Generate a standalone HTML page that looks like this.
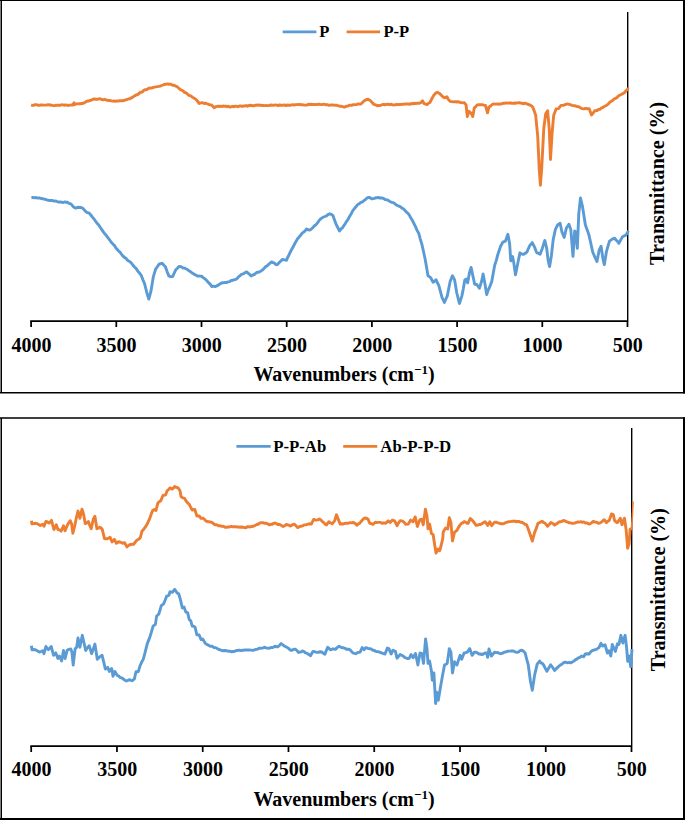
<!DOCTYPE html>
<html><head><meta charset="utf-8"><style>
html,body{margin:0;padding:0;background:#fff;}
body{width:685px;height:820px;overflow:hidden;}
svg{display:block;}
text{font-family:"Liberation Serif",serif;font-weight:bold;fill:#000;}
.tk{font-size:20px;text-anchor:middle;}
.ttl{font-size:20px;text-anchor:middle;}
.sup{font-size:13px;}
.yt{font-size:20.1px;text-anchor:middle;}
.lg{font-size:16.5px;}
</style></head><body>
<svg width="685" height="820" viewBox="0 0 685 820">
<rect width="685" height="820" fill="#fff"/>
<path d="M0 0.5H685" stroke="#000" stroke-width="1"/>
<path d="M1.25 0V393.55M0 392.8H685" stroke="#000" stroke-width="1.5" fill="none"/>
<path d="M684 0V393.55M684 417.2V820M0 819H685" stroke="#000" stroke-width="2" fill="none"/>
<path d="M1.25 417.2V820M0 418H685" stroke="#000" stroke-width="1.5" fill="none"/>
<path d="M30.20 321.00H628.00" fill="none" stroke="#000" stroke-width="1.75"/>
<path d="M627.70 321.00V12.00" fill="none" stroke="#000" stroke-width="1.4"/>
<line x1="31.10" y1="321.00" x2="31.10" y2="327.00" stroke="#000" stroke-width="1.75"/>
<text x="31.40" y="351.90" class="tk">4000</text>
<line x1="116.30" y1="321.00" x2="116.30" y2="327.00" stroke="#000" stroke-width="1.75"/>
<text x="116.60" y="351.90" class="tk">3500</text>
<line x1="201.50" y1="321.00" x2="201.50" y2="327.00" stroke="#000" stroke-width="1.75"/>
<text x="201.80" y="351.90" class="tk">3000</text>
<line x1="286.70" y1="321.00" x2="286.70" y2="327.00" stroke="#000" stroke-width="1.75"/>
<text x="287.00" y="351.90" class="tk">2500</text>
<line x1="371.90" y1="321.00" x2="371.90" y2="327.00" stroke="#000" stroke-width="1.75"/>
<text x="372.20" y="351.90" class="tk">2000</text>
<line x1="457.10" y1="321.00" x2="457.10" y2="327.00" stroke="#000" stroke-width="1.75"/>
<text x="457.40" y="351.90" class="tk">1500</text>
<line x1="542.30" y1="321.00" x2="542.30" y2="327.00" stroke="#000" stroke-width="1.75"/>
<text x="542.60" y="351.90" class="tk">1000</text>
<line x1="627.50" y1="321.00" x2="627.50" y2="327.00" stroke="#000" stroke-width="1.75"/>
<text x="627.80" y="351.90" class="tk">500</text>
<text x="344.00" y="380.50" class="ttl">Wavenumbers (cm<tspan dy="-7" class="sup">−1</tspan><tspan dy="7">)</tspan></text>
<text transform="translate(663.90 183.40) rotate(-90)" class="yt">Transmittance (%)</text>
<line x1="282.7" y1="31.9" x2="316.4" y2="31.9" stroke="#5B9BD5" stroke-width="2.6"/>
<text x="319.3" y="36.8" class="lg" style="font-size:16.5px">P</text>
<line x1="346.6" y1="31.9" x2="380.1" y2="31.9" stroke="#ED7D31" stroke-width="2.6"/>
<text x="383.4" y="36.8" class="lg" style="font-size:16.5px">P-P</text>
<path d="M31.4 197.8L33.0 197.4L34.6 197.9L36.2 197.5L37.8 198.1L39.4 197.9L41.0 198.5L42.6 198.8L44.3 199.1L45.9 199.5L47.3 200.0L48.6 200.4L50.0 200.5L52.0 200.4L53.9 201.1L55.5 200.9L57.0 201.5L58.6 202.1L60.3 202.0L61.9 202.3L63.3 202.5L64.8 201.9L66.2 202.3L67.6 202.3L68.9 203.3L70.3 203.6L71.6 204.6L73.2 206.6L74.8 207.8L76.4 208.1L78.0 207.2L79.6 207.5L81.2 207.5L82.8 208.3L84.1 209.7L85.5 211.4L86.8 212.3L89.2 213.1L90.8 215.0L92.4 217.1L94.0 219.0L95.7 221.3L97.3 223.5L98.9 225.3L100.5 227.7L102.1 230.1L103.7 232.4L105.0 234.1L106.4 235.6L107.7 237.4L109.0 239.1L110.4 241.0L111.7 242.8L113.1 244.2L114.5 245.6L115.9 247.9L117.2 249.3L118.6 251.0L120.0 252.2L121.4 254.1L123.0 256.1L124.6 257.6L126.2 258.6L127.8 260.5L130.0 261.7L131.6 263.3L133.2 265.5L134.8 267.3L136.4 268.9L138.0 271.4L139.6 273.1L141.2 275.3L142.8 279.6L144.5 283.4L146.9 293.0L148.8 299.1L150.9 291.4L153.3 276.9L155.7 268.9L157.3 266.8L158.9 264.4L160.5 263.7L162.1 263.3L163.7 265.0L165.3 266.5L167.1 271.6L168.9 276.1L170.8 276.7L172.6 276.6L174.2 273.2L175.8 269.7L177.4 268.2L179.0 266.5L180.4 266.5L181.8 267.1L183.2 268.0L184.6 268.1L186.2 269.0L187.8 269.8L189.4 271.1L191.0 272.1L192.6 273.3L194.2 274.3L195.8 275.0L197.4 276.1L198.8 276.0L200.1 276.1L201.5 276.1L202.8 277.4L204.2 278.3L205.5 279.3L207.1 281.0L208.7 282.9L210.3 284.4L211.9 286.6L213.5 286.2L215.1 286.6L216.7 285.9L218.3 285.2L219.9 284.0L221.5 283.0L223.1 282.8L224.8 282.4L226.4 282.6L228.0 281.9L229.6 281.6L231.2 280.5L232.8 280.3L234.4 279.7L236.0 279.3L237.3 278.4L238.7 276.6L240.1 275.6L241.4 274.3L243.1 273.9L244.9 272.8L246.6 271.9L248.1 273.2L249.6 274.4L251.1 275.9L252.7 275.0L254.3 274.5L255.9 273.2L257.3 272.1L258.7 272.2L260.1 271.5L261.5 270.6L262.8 269.7L264.2 268.3L265.5 266.8L267.0 265.9L268.6 264.4L270.1 263.2L271.6 261.9L273.0 262.6L274.4 263.0L275.7 264.4L277.1 264.8L278.4 263.5L279.8 261.8L281.1 260.8L282.4 259.4L283.7 259.7L285.1 259.9L286.4 260.3L287.7 257.3L289.1 254.7L290.4 251.8L291.8 249.3L293.2 246.7L294.6 244.0L296.0 241.4L297.6 238.8L299.2 236.9L300.8 235.0L302.2 233.2L303.6 232.1L305.1 230.8L306.5 229.0L308.1 229.8L309.7 230.1L311.1 229.2L312.5 228.0L313.9 226.3L315.3 225.3L316.6 223.9L318.0 222.1L319.3 220.2L320.7 218.9L322.1 217.9L323.5 217.0L324.9 216.5L326.5 215.8L328.1 214.5L329.7 213.8L331.4 214.4L333.0 215.7L334.6 220.2L336.2 224.5L337.8 227.6L339.4 231.0L341.0 229.0L342.6 227.7L344.0 225.3L345.3 223.6L346.6 221.3L348.0 219.5L349.6 216.4L351.2 213.8L352.8 210.7L354.4 208.6L356.1 206.5L357.7 204.6L359.3 203.7L360.9 202.4L362.5 201.9L363.9 200.7L365.3 199.6L366.7 198.3L368.1 197.5L369.7 197.5L371.3 198.7L372.9 198.7L374.3 198.4L375.7 197.8L377.1 197.8L378.5 197.4L379.9 198.1L381.2 197.8L382.6 198.2L383.9 198.7L385.2 199.6L386.6 199.8L387.9 200.1L389.3 201.2L390.6 201.8L391.9 202.3L393.3 202.6L394.6 203.5L396.1 204.8L397.5 205.5L399.0 206.2L400.5 206.8L401.9 208.1L403.4 208.8L404.8 210.2L406.2 211.8L407.7 213.1L409.1 214.7L410.7 217.8L412.3 220.2L413.9 223.5L415.5 226.6L417.1 230.4L418.7 233.2L420.3 239.1L421.9 244.4L423.5 251.5L425.1 258.9L426.6 267.6L428.0 275.7L429.4 276.6L430.7 277.8L433.1 282.2L434.6 281.3L436.0 279.7L437.4 282.8L438.8 285.4L440.4 291.3L442.0 297.4L444.4 302.5L445.9 299.0L447.3 295.9L448.8 288.2L450.2 281.3L452.4 275.8L454.6 279.9L456.8 293.0L459.4 303.5L461.9 295.9L463.4 288.2L464.8 279.9L466.0 279.1L467.7 282.8L469.5 272.6L471.1 267.4L472.8 275.5L474.7 284.2L476.8 284.5L479.4 288.3L481.6 281.3L483.1 274.0L484.5 281.3L486.7 294.5L488.1 290.4L489.6 287.2L491.8 281.3L493.2 273.6L494.7 265.3L496.2 260.6L497.7 255.0L499.1 250.7L500.6 246.3L502.8 242.2L505.4 241.2L507.9 234.3L509.6 243.4L510.8 260.9L512.6 256.5L513.7 262.3L515.5 274.7L517.4 265.3L518.7 258.8L520.0 252.8L521.5 253.9L522.9 254.3L524.2 254.0L525.6 253.0L526.9 252.1L528.3 248.8L529.8 245.5L532.3 242.6L534.2 246.3L536.4 252.1L537.2 252.8L538.7 253.4L540.1 254.2L542.3 248.4L544.8 240.4L546.7 248.4L548.1 260.1L549.6 266.6L551.4 255.7L553.2 239.6L555.4 229.4L557.6 225.0L560.1 223.3L562.0 232.3L564.2 237.4L566.4 228.0L568.9 224.3L570.8 229.4L573.0 256.4L574.7 230.9L575.9 232.3L577.3 248.4L578.8 213.4L580.5 198.0L582.4 206.1L583.9 215.4L585.4 225.0L587.2 229.9L589.0 235.3L590.9 243.8L592.7 252.0L594.9 257.2L597.0 261.5L599.2 249.9L601.1 246.2L602.9 258.6L604.3 264.7L606.5 251.3L608.0 246.1L609.5 241.1L611.2 239.9L612.9 238.8L614.6 238.2L616.0 240.0L617.5 241.4L618.9 243.3L620.6 240.1L622.3 237.0L623.9 236.0L625.5 235.3L627.0 233.4L628.4 230.9" fill="none" stroke="#5B9BD5" stroke-width="2.90" stroke-linejoin="round" stroke-linecap="butt"/>
<path d="M31.1 105.0L32.4 105.4L33.7 105.4L35.0 104.6L36.4 104.6L37.7 105.3L39.0 105.2L40.3 105.2L41.6 104.8L43.0 105.1L44.3 105.1L45.6 105.1L46.9 105.0L48.2 104.7L49.5 105.0L50.8 105.0L52.1 105.3L53.5 105.6L54.8 105.6L56.1 105.2L57.4 105.2L58.7 105.1L60.0 105.3L61.3 104.9L62.6 104.8L64.0 105.2L65.3 105.0L66.6 105.0L67.9 105.5L69.2 105.1L70.6 105.1L71.9 104.8L73.2 105.0L74.0 102.8L75.0 104.5L76.4 103.9L77.8 103.9L79.1 103.6L80.5 103.7L81.9 103.5L83.4 103.3L85.0 102.4L86.5 101.3L88.0 101.0L89.5 100.8L91.0 100.2L92.5 99.6L94.0 98.9L95.3 99.3L96.6 99.1L97.9 99.2L99.2 98.8L100.5 98.9L101.9 99.6L103.2 99.8L104.6 99.3L106.0 99.8L107.3 100.3L108.6 100.5L110.0 100.5L111.3 100.9L112.6 101.1L114.0 101.0L115.5 101.3L116.9 100.9L118.4 101.1L119.8 100.6L121.3 100.7L122.7 100.7L124.2 100.5L125.6 99.8L127.0 99.5L128.3 99.0L129.7 98.8L131.0 98.1L132.3 97.4L133.6 96.6L135.0 95.6L136.3 94.9L137.7 94.5L139.0 93.5L140.6 92.2L142.2 92.0L143.8 90.4L145.4 89.7L146.9 89.5L148.5 88.4L150.0 88.0L151.4 88.1L152.8 87.6L154.2 87.1L155.7 86.9L157.3 86.6L158.8 86.4L160.2 86.1L161.6 85.5L163.0 85.0L164.5 84.5L166.0 84.1L167.5 84.0L169.2 84.2L171.0 84.3L172.6 85.2L174.1 85.3L175.4 86.1L176.7 86.4L178.0 87.5L179.6 88.9L181.2 89.9L182.8 90.8L184.5 92.4L186.3 93.0L188.0 94.5L189.4 95.6L190.9 95.9L192.4 97.3L193.8 98.0L195.4 99.0L197.0 100.5L199.3 103.5L200.9 102.9L202.6 102.8L204.1 103.5L205.5 103.1L207.0 103.8L208.4 104.2L209.9 104.9L211.3 105.0L212.8 106.1L214.2 107.7L216.1 106.6L217.9 106.1L219.2 106.5L220.5 106.2L221.8 106.5L223.1 106.0L224.4 106.3L225.8 106.2L227.1 106.7L228.4 106.3L229.7 107.1L231.0 106.8L232.4 106.3L233.8 106.8L235.2 106.1L236.6 106.3L238.0 106.7L239.4 106.0L240.8 106.0L242.2 106.3L243.6 106.0L245.0 106.0L246.3 105.5L247.6 106.3L249.0 105.5L250.3 105.3L251.6 105.5L252.9 105.7L254.2 105.8L255.5 105.1L256.9 105.3L258.2 104.9L259.5 105.3L260.8 105.2L262.2 105.5L263.5 105.5L264.8 105.6L266.1 105.5L267.5 105.6L268.8 105.5L270.1 105.2L271.4 105.0L272.8 105.4L274.1 105.1L275.4 104.9L276.7 105.2L278.1 105.6L279.4 104.9L280.7 105.3L282.0 105.1L283.4 105.2L284.7 104.9L286.0 105.6L287.3 105.0L288.7 105.3L290.0 105.2L291.3 105.1L292.6 104.7L293.9 105.1L295.3 104.7L296.6 104.6L297.9 104.5L299.2 104.6L300.5 104.5L301.8 104.9L303.1 104.8L304.5 105.1L305.8 105.1L307.1 105.1L308.4 104.3L309.7 104.5L311.0 104.3L312.4 104.5L313.7 104.5L315.0 104.6L316.3 104.3L317.7 104.6L319.0 104.2L320.4 104.5L321.8 104.6L323.1 104.3L324.5 104.4L325.9 104.8L327.3 104.6L328.6 105.2L330.0 105.1L331.3 105.0L332.6 104.9L333.9 105.1L335.3 105.3L336.6 105.3L337.9 105.7L339.2 106.0L340.5 106.2L341.9 106.4L343.2 106.9L344.5 107.1L346.2 106.2L348.0 106.1L349.7 105.1L351.1 105.4L352.5 105.0L353.9 104.6L355.3 104.6L356.7 104.5L358.1 103.9L359.5 104.1L360.9 104.0L362.2 102.9L363.5 101.4L364.8 100.5L366.5 99.5L368.1 99.2L370.7 100.9L372.4 102.9L374.0 104.4L375.6 104.9L377.3 105.7L378.6 105.5L379.9 105.6L381.3 105.0L382.6 104.5L383.9 104.4L385.2 104.9L386.5 104.4L387.8 104.1L389.1 104.7L390.5 104.3L391.8 104.5L393.1 105.0L394.4 104.9L395.7 104.8L397.0 104.3L398.3 104.6L399.6 104.5L400.9 104.5L402.2 104.1L403.6 104.4L404.9 103.9L406.2 104.0L407.5 104.0L408.8 104.0L410.2 104.3L411.6 103.4L413.0 103.9L414.4 103.3L415.8 103.5L417.2 103.2L418.6 103.2L420.0 103.1L421.3 102.2L422.6 100.8L424.1 103.7L425.6 104.1L427.0 104.6L428.4 103.2L429.9 102.5L431.7 99.0L434.0 94.9L435.6 93.2L437.3 92.2L439.1 93.2L441.0 94.9L442.8 96.7L444.5 97.8L446.9 96.7L448.0 99.0L450.1 101.4L451.7 101.6L453.4 101.9L455.0 101.6L456.6 102.0L458.1 101.6L459.7 102.3L461.3 102.6L462.8 102.9L464.4 102.8L466.1 104.9L467.3 116.5L469.0 111.3L471.4 113.6L472.8 116.5L474.3 107.8L475.8 106.6L477.2 104.9L478.9 104.7L480.7 104.6L482.3 104.7L483.8 105.1L485.4 105.4L487.5 112.8L488.9 107.2L490.6 106.0L492.4 104.3L493.8 104.0L495.2 104.1L496.6 103.9L498.0 104.2L499.4 104.0L500.8 104.0L502.2 103.7L503.6 103.1L505.0 103.2L506.4 102.9L507.8 103.1L509.2 102.9L510.6 103.0L512.0 103.2L513.4 103.4L514.8 103.0L516.2 103.2L517.6 102.9L519.1 102.6L520.5 103.0L522.0 103.2L523.5 103.8L524.9 103.1L526.4 103.6L528.2 104.3L530.0 105.1L531.4 105.8L532.8 107.3L534.2 110.9L535.7 115.3L537.7 136.2L539.3 169.9L540.4 185.2L541.7 168.3L543.8 128.2L545.7 113.7L547.6 110.8L549.2 128.2L550.5 159.5L552.1 133.0L553.7 115.3L556.1 108.9L558.5 108.6L561.0 105.4L562.4 105.4L563.8 105.2L565.2 104.6L566.6 104.1L567.9 104.0L569.3 104.5L570.6 104.7L571.9 105.3L573.3 105.6L574.6 105.7L576.0 106.1L577.3 106.6L578.7 106.7L580.1 107.6L581.5 108.4L582.8 108.7L584.2 108.9L585.8 108.4L587.5 108.7L589.1 108.6L591.5 115.0L593.1 113.1L594.7 110.8L597.1 110.5L598.4 109.5L599.8 109.4L601.1 108.2L602.4 107.7L603.8 106.7L605.1 106.0L606.4 105.5L607.8 104.3L609.1 103.1L610.4 101.7L611.8 101.0L613.1 100.1L614.4 98.7L615.7 98.3L617.0 97.6L618.3 96.0L619.6 95.3L621.2 94.5L622.8 93.6L624.4 92.8L625.7 91.1L627.1 89.8L628.4 88.0" fill="none" stroke="#ED7D31" stroke-width="2.90" stroke-linejoin="round" stroke-linecap="butt"/>
<path d="M30.30 746.00H632.00" fill="none" stroke="#000" stroke-width="1.75"/>
<path d="M631.70 746.00V428.00" fill="none" stroke="#000" stroke-width="1.4"/>
<line x1="31.20" y1="746.00" x2="31.20" y2="752.00" stroke="#000" stroke-width="1.75"/>
<text x="31.50" y="776.20" class="tk">4000</text>
<line x1="116.96" y1="746.00" x2="116.96" y2="752.00" stroke="#000" stroke-width="1.75"/>
<text x="117.26" y="776.20" class="tk">3500</text>
<line x1="202.71" y1="746.00" x2="202.71" y2="752.00" stroke="#000" stroke-width="1.75"/>
<text x="203.01" y="776.20" class="tk">3000</text>
<line x1="288.47" y1="746.00" x2="288.47" y2="752.00" stroke="#000" stroke-width="1.75"/>
<text x="288.77" y="776.20" class="tk">2500</text>
<line x1="374.23" y1="746.00" x2="374.23" y2="752.00" stroke="#000" stroke-width="1.75"/>
<text x="374.53" y="776.20" class="tk">2000</text>
<line x1="459.99" y1="746.00" x2="459.99" y2="752.00" stroke="#000" stroke-width="1.75"/>
<text x="460.29" y="776.20" class="tk">1500</text>
<line x1="545.74" y1="746.00" x2="545.74" y2="752.00" stroke="#000" stroke-width="1.75"/>
<text x="546.04" y="776.20" class="tk">1000</text>
<line x1="631.50" y1="746.00" x2="631.50" y2="752.00" stroke="#000" stroke-width="1.75"/>
<text x="631.80" y="776.20" class="tk">500</text>
<text x="344.00" y="805.80" class="ttl">Wavenumbers (cm<tspan dy="-7" class="sup">−1</tspan><tspan dy="7">)</tspan></text>
<text transform="translate(665.30 589.70) rotate(-90)" class="yt">Transmittance (%)</text>
<line x1="236.4" y1="446.4" x2="270.7" y2="446.4" stroke="#5B9BD5" stroke-width="2.6"/>
<text x="273.2" y="451.7" class="lg" style="font-size:16.8px">P-P-Ab</text>
<line x1="343.2" y1="446.4" x2="377.3" y2="446.4" stroke="#ED7D31" stroke-width="2.6"/>
<text x="380.3" y="451.7" class="lg" style="font-size:16.8px">Ab-P-P-D</text>
<path d="M31.4 645.7L32.0 649.7L33.7 649.5L35.4 649.7L36.8 650.5L38.1 651.2L39.5 652.1L41.1 651.5L42.7 650.8L44.0 653.7L45.9 646.5L48.3 649.7L49.8 648.2L51.2 646.5L53.6 655.3L55.8 652.9L57.9 658.5L59.5 656.1L61.6 661.0L63.5 650.5L65.1 658.5L67.1 650.5L68.9 649.3L70.8 648.9L71.9 652.1L73.2 665.0L75.1 648.9L76.7 647.3L78.0 638.0L79.9 647.3L82.3 635.3L83.9 642.5L85.7 650.5L87.5 647.7L89.2 645.7L91.6 653.7L93.2 649.2L94.9 644.1L97.3 659.3L99.7 656.9L102.1 655.3L103.7 661.9L105.3 669.0L107.7 667.4L109.3 671.4L111.7 668.5L113.0 676.2L114.9 671.4L117.3 675.4L118.7 676.0L120.0 677.4L121.4 677.8L123.1 678.8L124.8 680.2L126.5 681.0L128.0 680.3L129.4 679.7L130.9 680.3L132.3 680.7L134.4 678.9L136.0 671.7L138.3 671.7L140.0 665.8L141.6 662.3L143.2 659.4L144.6 654.3L145.9 649.2L147.3 643.6L148.8 639.9L150.2 636.1L151.6 631.3L153.1 626.1L155.4 624.4L156.6 616.2L158.9 613.9L161.3 605.7L163.6 603.9L165.1 600.3L166.5 596.4L168.9 595.2L170.0 591.7L172.4 592.3L174.7 589.3L177.0 592.8L178.8 594.0L180.5 599.9L182.3 608.0L184.1 607.1L185.8 612.1L187.6 612.7L189.3 619.7L190.8 620.9L192.2 626.1L193.6 626.3L195.1 627.3L196.9 634.9L199.2 634.9L201.0 639.6L202.7 639.0L205.1 643.1L206.6 644.3L208.2 645.1L209.7 646.0L211.0 646.2L212.3 646.3L213.7 647.5L215.0 647.5L216.3 648.0L217.6 648.8L218.9 649.5L220.2 649.9L221.5 650.3L223.1 650.8L224.8 650.5L226.4 650.7L228.0 651.2L229.6 651.1L231.2 651.7L232.8 651.5L234.2 651.6L235.7 650.7L237.1 650.5L238.6 650.3L240.0 650.3L241.3 650.7L242.6 650.1L243.9 650.2L245.2 649.9L246.5 650.0L247.8 649.9L249.4 650.0L251.1 650.1L252.7 650.4L254.3 650.0L255.9 649.4L257.5 649.2L259.1 648.3L260.5 648.2L261.9 648.1L263.3 647.8L264.7 647.2L266.3 648.0L267.9 648.1L269.5 648.3L270.9 647.5L272.3 647.6L273.7 647.1L275.1 646.2L276.6 646.8L278.0 646.7L279.6 645.2L281.2 643.5L283.0 645.0L284.8 646.2L287.2 647.5L288.5 648.2L289.9 649.7L291.2 650.4L292.5 650.0L293.9 649.3L295.2 649.1L296.8 650.3L298.4 652.3L299.7 652.2L301.1 651.9L302.4 651.0L303.8 651.3L305.1 652.7L306.5 653.1L307.8 653.9L309.2 654.6L310.5 655.8L312.9 651.5L314.3 651.5L315.7 652.1L317.1 652.4L318.5 652.3L320.1 651.7L321.7 652.0L323.3 653.2L324.9 654.2L326.4 650.3L327.8 647.2L329.2 648.7L330.6 649.9L333.0 648.8L335.4 649.4L337.2 647.6L339.1 646.2L340.6 647.1L342.1 647.7L343.5 647.8L345.0 648.3L346.4 649.2L347.7 649.1L349.0 649.3L350.4 650.2L352.8 652.9L354.5 653.4L356.1 653.7L357.4 652.7L358.8 652.4L360.1 652.1L362.2 647.6L364.1 649.7L365.7 647.6L367.1 648.0L368.5 648.6L369.8 648.7L371.2 649.0L372.6 650.2L374.0 650.2L375.4 651.2L376.7 651.6L378.1 651.6L379.5 652.1L380.9 652.6L382.2 653.2L383.6 653.6L385.0 654.0L387.4 648.1L389.0 648.9L391.1 654.0L393.0 650.2L395.4 651.3L397.0 658.2L398.6 656.4L400.2 654.5L402.6 655.7L405.0 657.7L406.4 658.1L407.7 658.6L409.1 658.5L411.0 654.5L413.1 657.7L415.5 653.4L417.9 665.0L420.0 652.9L421.9 653.7L423.5 663.4L425.6 638.9L427.0 648.9L428.0 663.4L429.6 661.0L431.5 671.4L432.3 680.2L433.9 673.0L435.6 703.5L436.7 692.3L438.3 700.3L440.4 687.4L442.4 676.2L444.5 665.0L445.9 664.2L447.2 663.4L449.3 648.6L450.9 652.1L452.5 673.0L454.5 661.8L456.9 665.0L458.5 660.1L460.1 655.3L461.7 659.3L464.1 652.9L465.7 652.7L467.3 652.1L469.7 648.6L472.1 655.3L474.5 652.1L476.0 652.3L477.4 652.9L478.9 654.0L480.3 654.0L481.8 654.5L483.4 654.0L485.0 653.0L486.6 652.9L487.7 657.3L489.0 648.9L491.4 656.1L493.0 654.0L494.6 652.1L496.2 652.6L497.8 652.5L499.4 653.4L501.0 653.7L502.6 653.2L504.2 652.1L505.8 652.0L507.4 651.3L509.0 651.1L510.7 651.1L512.3 650.8L513.9 651.2L515.5 652.1L517.1 652.4L518.7 651.9L520.3 650.5L521.9 650.2L523.5 651.2L525.1 652.9L526.7 659.1L528.3 665.0L530.4 681.0L532.3 690.3L534.7 674.6L537.2 664.2L539.6 661.0L540.9 662.8L542.3 663.4L543.6 665.0L545.2 668.1L546.9 671.3L548.8 668.1L550.7 664.8L552.7 667.5L554.6 670.6L556.1 668.9L557.7 667.4L559.2 666.0L560.5 664.9L561.9 664.2L563.2 663.0L564.5 662.2L566.0 662.3L567.6 662.8L569.2 662.3L570.7 662.9L572.2 662.0L573.8 661.2L575.3 659.9L576.8 659.1L578.3 657.8L579.9 657.3L581.4 656.0L583.7 656.8L585.2 654.0L587.1 653.8L589.0 654.0L590.5 652.1L592.1 650.7L593.6 650.1L595.2 649.8L596.7 649.1L599.0 647.6L600.9 643.3L602.8 646.1L605.1 644.8L607.4 653.0L609.0 650.7L610.8 656.0L612.3 644.5L613.9 648.4L615.4 651.4L617.4 643.8L618.9 644.5L620.9 635.3L622.8 643.0L625.1 635.3L626.6 647.6L627.7 661.4L629.2 656.0L630.7 666.7L632.0 649.1" fill="none" stroke="#5B9BD5" stroke-width="2.90" stroke-linejoin="round" stroke-linecap="butt"/>
<path d="M31.4 520.7L32.0 523.9L33.7 523.6L35.3 523.3L37.0 523.6L38.6 524.5L40.3 525.5L42.7 524.2L44.0 526.3L45.9 521.5L47.5 522.0L49.1 523.1L51.5 520.4L53.9 529.5L56.3 524.7L57.9 529.5L59.5 529.9L61.1 531.1L63.5 525.8L65.1 530.7L67.6 524.7L68.9 522.6L70.3 520.7L71.6 523.9L72.9 533.2L74.8 525.5L76.4 517.5L78.0 511.1L79.9 518.3L82.0 509.1L83.6 514.3L85.2 523.6L86.8 522.9L88.4 521.5L89.8 525.4L91.2 528.7L93.3 519.1L94.9 516.2L96.9 528.7L98.2 528.2L99.6 527.2L100.9 527.9L102.2 529.2L104.5 538.7L106.0 538.7L107.5 538.7L110.1 537.2L112.1 542.0L114.4 539.4L116.4 543.3L118.7 541.7L120.7 542.3L122.6 543.3L124.6 542.7L126.9 546.9L129.2 545.0L130.7 544.5L132.3 544.2L133.8 544.3L135.4 541.9L137.0 540.0L138.7 539.2L140.3 537.6L142.0 531.1L143.4 529.7L144.7 527.9L146.1 525.9L147.8 522.7L149.6 518.9L151.1 514.5L152.5 510.7L154.3 509.5L156.0 510.5L157.8 503.1L159.2 501.8L160.7 500.8L163.0 495.5L165.6 494.9L167.1 490.8L168.6 489.5L170.0 487.9L172.4 489.1L174.7 486.4L176.4 487.4L178.2 487.9L180.0 490.8L181.1 496.7L182.9 497.9L184.6 498.4L186.4 501.4L187.9 503.2L189.3 504.3L190.8 507.5L192.2 510.1L193.5 509.4L194.8 509.5L196.9 516.0L199.2 516.0L201.0 518.3L203.3 518.3L204.8 519.8L206.2 521.2L207.8 521.7L209.3 521.8L210.9 522.1L212.3 522.7L213.6 523.8L215.0 524.7L216.6 524.6L218.3 525.7L219.9 525.6L221.2 526.2L222.5 526.3L223.8 526.4L225.1 527.2L226.4 527.2L228.0 527.0L229.6 527.0L231.2 526.4L232.7 526.8L234.1 526.7L235.6 526.7L237.1 527.0L238.5 527.0L240.0 527.2L241.5 527.0L243.1 527.3L244.6 527.6L245.9 527.7L247.3 526.8L248.6 526.6L250.0 527.0L251.3 526.5L252.7 526.5L254.0 525.9L255.4 525.2L256.7 524.5L258.0 524.5L259.4 523.1L260.7 522.8L262.1 522.8L263.5 522.8L264.9 523.3L266.3 523.3L267.9 523.9L269.5 524.9L270.9 524.3L272.3 524.2L273.7 523.3L275.1 523.0L276.5 523.6L277.8 524.5L279.1 524.4L280.5 524.9L281.9 525.7L283.2 526.5L284.8 525.7L286.4 524.4L287.7 525.0L289.1 525.2L290.4 526.0L292.2 524.9L294.1 524.1L295.9 525.6L297.6 527.6L298.9 527.0L300.2 526.1L301.5 526.2L302.8 525.8L304.1 524.9L305.7 524.9L307.3 524.4L308.9 523.8L311.3 524.1L313.7 519.3L316.1 520.1L317.7 519.9L319.3 518.9L320.9 519.9L322.5 521.7L323.8 522.6L325.2 524.3L326.5 524.9L328.9 521.7L330.5 523.0L332.2 523.8L334.6 520.9L336.5 514.8L338.6 520.1L340.2 524.1L341.8 523.8L343.4 524.0L345.0 523.3L346.4 523.3L347.7 523.4L349.1 522.9L350.4 522.7L351.8 522.9L353.1 522.5L354.5 522.8L356.9 525.2L358.2 523.9L359.6 523.3L360.9 521.7L362.2 520.3L363.6 518.8L364.9 518.0L366.5 518.2L368.1 519.3L369.7 523.3L371.3 523.6L372.9 524.4L375.3 522.2L376.6 522.6L377.9 522.4L379.2 522.4L380.6 522.4L381.9 523.3L383.2 523.0L384.5 522.9L385.8 523.3L388.2 520.9L390.1 522.5L392.2 520.1L394.6 520.9L397.0 525.7L398.6 522.8L400.2 520.6L402.6 521.2L404.2 522.4L405.8 524.4L408.3 524.1L410.7 520.1L413.1 521.7L415.2 516.9L417.4 526.5L418.7 522.8L420.0 519.6L421.9 519.3L423.2 524.9L425.4 509.3L427.0 516.1L428.0 528.9L429.6 524.1L431.5 533.7L433.1 534.5L434.7 545.0L436.0 553.0L438.0 549.0L439.6 550.6L440.0 549.8L441.4 544.3L442.8 538.5L443.2 532.1L445.6 528.1L447.7 528.9L449.3 517.7L450.9 522.5L452.5 541.0L454.5 532.1L456.9 530.5L458.5 527.4L460.1 524.9L461.4 523.4L462.8 522.8L464.1 521.7L465.4 522.0L466.8 523.2L468.1 523.3L470.2 518.5L471.5 519.4L472.9 520.9L474.5 523.2L476.1 525.4L477.5 525.2L479.0 524.5L480.4 524.6L481.8 523.8L483.4 522.7L485.0 521.7L486.4 523.3L487.7 525.4L489.8 521.7L491.7 525.7L493.1 523.9L494.6 522.2L496.2 522.2L497.8 522.9L499.4 523.2L501.0 523.8L502.6 523.8L504.2 523.3L505.8 522.6L507.4 522.2L508.7 521.6L510.0 521.6L511.3 521.4L512.6 521.1L513.9 521.2L515.2 521.1L516.6 521.9L517.9 521.4L519.2 521.5L520.6 522.4L521.9 522.2L523.5 523.2L525.1 524.4L526.7 524.9L528.3 529.2L529.9 533.7L532.3 541.0L534.7 532.1L536.4 528.1L538.0 523.3L539.3 522.7L540.7 522.2L542.0 521.2L543.6 522.5L545.2 523.3L547.6 526.3L549.2 524.4L550.9 522.6L552.8 523.5L554.6 525.1L556.1 523.8L557.5 523.3L559.0 521.9L560.5 521.8L561.9 521.3L563.4 520.4L564.8 520.9L566.3 521.7L567.7 522.2L569.2 522.8L570.7 522.9L572.1 523.4L573.6 523.4L575.1 522.9L576.5 522.5L578.0 521.9L579.5 522.1L580.9 521.7L582.3 522.3L583.8 521.9L585.5 523.0L587.2 523.0L588.9 524.1L590.4 523.6L591.8 522.6L593.3 521.2L595.0 522.1L596.7 522.3L598.4 523.4L600.2 522.9L602.0 521.6L604.2 519.7L606.4 522.6L607.8 521.2L609.3 520.4L611.5 513.9L613.3 514.6L614.5 520.4L616.0 521.9L617.4 522.6L618.8 520.6L620.3 518.2L622.0 524.8L624.4 518.2L626.1 529.2L627.6 548.2L629.1 543.8L630.1 529.3L631.6 528.4" fill="none" stroke="#ED7D31" stroke-width="2.90" stroke-linejoin="round" stroke-linecap="butt"/>
<path d="M631.4 529.5L632.4 515L633 501.5" fill="none" stroke="#ED7D31" stroke-width="1.6"/>
</svg>
</body></html>
